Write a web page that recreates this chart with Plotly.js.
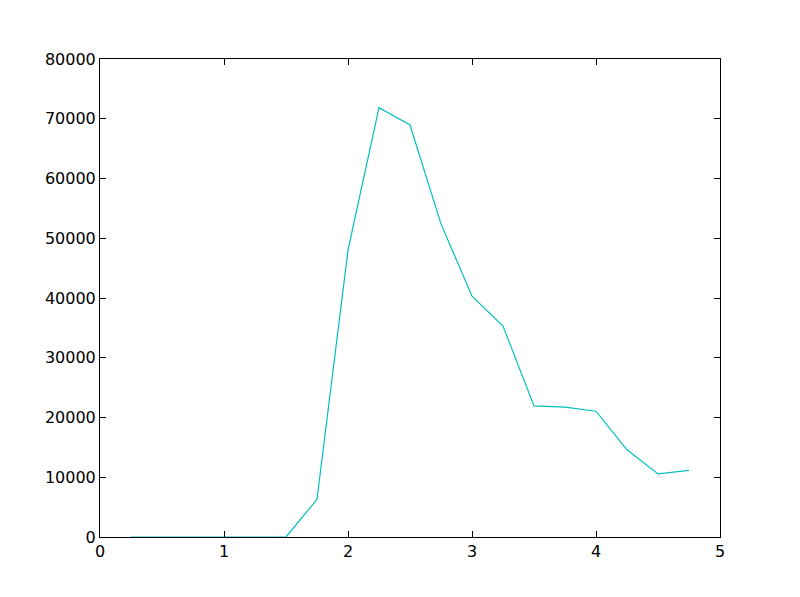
<!DOCTYPE html>
<html>
<head>
<meta charset="utf-8">
<script src="https://cdn.plot.ly/plotly-3.0.1.min.js"></script>
<style>html,body{margin:0;padding:0;background:#fff;}</style>
</head>
<body>
<div id="chart" style="width:800px;height:597px;"></div>
<script>
const xValues = [0.25, 0.5, 0.75, 1.0, 1.25, 1.5, 1.75, 2.0, 2.25, 2.5, 2.75, 3.0, 3.25, 3.5, 3.75, 4.0, 4.25, 4.5, 4.75];
const yValues = [0, 0, 0, 0, 0, 0, 6300, 48000, 71850, 68950, 52400, 40300, 35300, 21950, 21750, 21050, 14600, 10550, 11150];
const xTicks = [0, 1, 2, 3, 4, 5];
const yTicks = [0, 10000, 20000, 30000, 40000, 50000, 60000, 70000, 80000];

const trace = {
  x: xValues, y: yValues, type: 'scatter', mode: 'lines',
  line: {color: '#00bfbf', width: 1.2}, hoverinfo: 'none'
};
const axisCommon = {
  showgrid: false, zeroline: false, showline: true, mirror: 'allticks',
  linecolor: '#000', linewidth: 1, ticks: 'inside', ticklen: 6, tickwidth: 1,
  tickcolor: '#000', tickfont: {family: 'DejaVu Sans', size: 16, color: '#000'}
};
const layout = {
  width: 800, height: 597,
  margin: {l: 100, r: 80, t: 59, b: 60},
  paper_bgcolor: '#fff', plot_bgcolor: '#fff', showlegend: false,
  xaxis: Object.assign({}, axisCommon, {range: [0, 5], tickvals: xTicks, ticktext: xTicks.map(String)}),
  yaxis: Object.assign({}, axisCommon, {range: [0, 80000], tickvals: yTicks, ticktext: yTicks.map(String)})
};
Plotly.newPlot('chart', [trace], layout, {displayModeBar: false, staticPlot: true});
</script>
</body>
</html>
